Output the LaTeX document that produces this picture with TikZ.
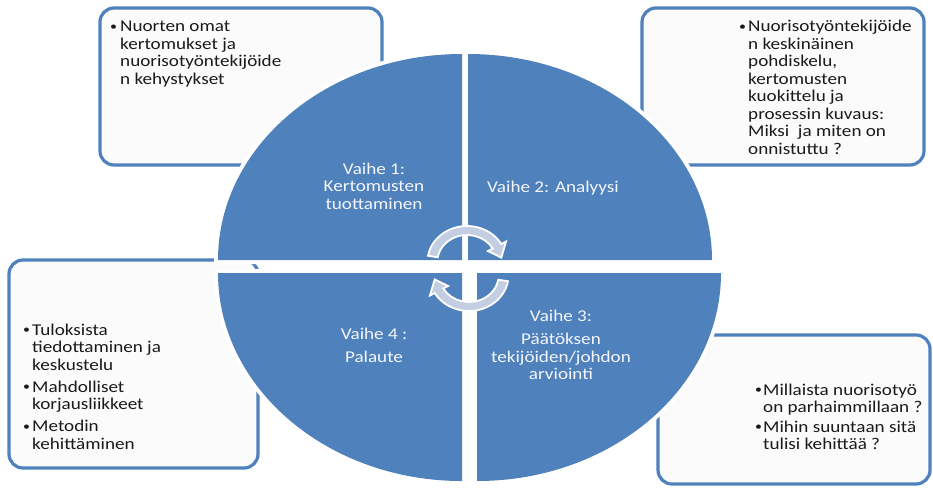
\documentclass[tikz,border=0pt]{standalone}
\usepackage{fontspec}
\setmainfont{Carlito}[FakeStretch=1.16]
\definecolor{qblue}{HTML}{4F81BD}
\definecolor{bborder}{HTML}{4F81BD}
\definecolor{arrowfill}{HTML}{C3CEE3}
\definecolor{boxfill}{HTML}{FBFBFB}
\definecolor{boxtextcol}{HTML}{1A1A1A}
\definecolor{phasetext}{HTML}{F4F6FA}
\newcommand{\smallbul}[1]{\makebox[#1][l]{\raisebox{1.3pt}{\fontsize{12}{12}\selectfont •}}}
\begin{document}
\begin{tikzpicture}[x=1pt,y=-1pt,
  infobox/.style={draw=bborder, line width=3.2pt, rounded corners=14pt, fill=boxfill},
  quadedge/.style={draw=white, line width=8pt},
  quadfill/.style={fill=qblue},
  phase/.style={text=phasetext, inner sep=0pt, anchor=base, font=\fontsize{16.5}{17.5}\selectfont},
  boxtext/.style={text=boxtextcol, inner sep=0pt, anchor=base west, font=\fontsize{16.5}{17.5}\selectfont},
  cyclearrow/.style={fill=arrowfill, draw=white, line width=1.8pt, line join=miter}
]
\useasboundingbox (0,0) rectangle (933,488);
\fill[white] (0,0) rectangle (933,488);

% info boxes
\draw[infobox] (100,8) rectangle (382,165);
\draw[infobox] (642,8) rectangle (924,165);
\draw[infobox] (9,260) rectangle (258,468);
\draw[infobox] (658,335) rectangle (930,484);

\node[boxtext] (t1) at (110,31.5) {\begin{tabular}[t]{@{}l@{}l@{}}
\smallbul{10pt}&Nuorten omat\\ &kertomukset ja\\ &nuorisotyöntekijöide\\ &n kehystykset\end{tabular}};

\node[boxtext] (t2) at (739,31.5) {\begin{tabular}[t]{@{}l@{}l@{}}
\smallbul{9pt}&Nuorisotyöntekijöide\\ &n keskinäinen\\ &pohdiskelu,\\ &kertomusten\\ &kuokittelu ja\\ &prosessin kuvaus:\\ &Miksi\ \ ja miten on\\ &onnistuttu ?\end{tabular}};

\node[boxtext] (t3) at (23,335) {\begin{tabular}[t]{@{}l@{}l@{}}
\smallbul{9pt}&Tuloksista\\ &tiedottaminen ja\\ &keskustelu\\[4.5pt]
\smallbul{9pt}&Mahdolliset\\ &korjausliikkeet\\[4.5pt]
\smallbul{9pt}&Metodin\\ &kehittäminen\end{tabular}};

\node[boxtext] (t4) at (755,395) {\begin{tabular}[t]{@{}l@{}l@{}}
\smallbul{8pt}&Millaista nuorisotyö\\ &on parhaimmillaan ?\\[2pt]
\smallbul{8pt}&Mihin suuntaan sitä\\ &tulisi kehittää ?\end{tabular}};

% quadrant white edges
\def\rx{244}
\draw[quadedge] (462-\rx,260) arc[start angle=180, end angle=270, x radius=\rx, y radius=206] -- (462,260) -- cycle;
\draw[quadedge] (468,260-206) arc[start angle=270, end angle=360, x radius=\rx, y radius=206] -- (468,260) -- cycle;
\draw[quadedge] (477+\rx,273) arc[start angle=0, end angle=90, x radius=\rx, y radius=208] -- (477,273) -- cycle;
\draw[quadedge] (462,273+208) arc[start angle=90, end angle=180, x radius=\rx, y radius=208] -- (462,273) -- cycle;
% quadrant fills
\fill[quadfill] (462-\rx,260) arc[start angle=180, end angle=270, x radius=\rx, y radius=206] -- (462,260) -- cycle;
\fill[quadfill] (468,260-206) arc[start angle=270, end angle=360, x radius=\rx, y radius=206] -- (468,260) -- cycle;
\fill[quadfill] (477+\rx,273) arc[start angle=0, end angle=90, x radius=\rx, y radius=208] -- (477,273) -- cycle;
\fill[quadfill] (462,273+208) arc[start angle=90, end angle=180, x radius=\rx, y radius=208] -- (462,273) -- cycle;

% phase texts
\node[phase] (p1) at (374,174) {\begin{tabular}[t]{@{}c@{}}Vaihe 1:\\Kertomusten\\tuottaminen\end{tabular}};
\node[phase] (p2) at (553,192) {Vaihe 2: Analyysi};
\node[phase] (p3) at (561,321) {\begin{tabular}[t]{@{}c@{}}Vaihe 3:\\[6pt]Päätöksen\\tekijöiden/johdon\\arviointi\end{tabular}};
\node[phase] (p4) at (374,339) {\begin{tabular}[t]{@{}c@{}}Vaihe 4 :\\[6pt]Palaute\end{tabular}};

% circular arrows
\begin{scope}[shift={(467,262)}, yscale=-1, xscale=1.1]
  \path[cyclearrow] (170:36) arc[start angle=170, end angle=30, radius=36] -- (30:41) -- (8:31.5) -- (30:22) -- (30:27) arc[start angle=30, end angle=170, radius=27] -- cycle;
\end{scope}
\begin{scope}[shift={(469,275)}, yscale=-1, xscale=1.1, rotate=180]
  \path[cyclearrow] (170:36) arc[start angle=170, end angle=30, radius=36] -- (30:41) -- (8:31.5) -- (30:22) -- (30:27) arc[start angle=30, end angle=170, radius=27] -- cycle;
\end{scope}
\end{tikzpicture}
\end{document}
